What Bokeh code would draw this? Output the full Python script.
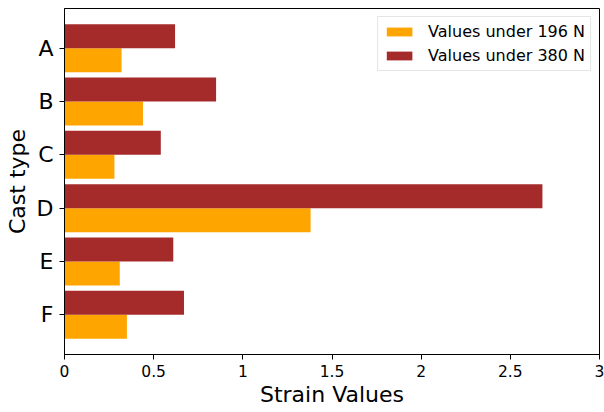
import numpy as np
from bokeh.plotting import figure
from bokeh.models import (Range1d, FixedTicker, NumeralTickFormatter, Legend,
                          LegendItem, ColumnDataSource)
from bokeh.transform import dodge
from bokeh.embed import file_html
from bokeh.resources import INLINE

cast_types = ["A", "B", "C", "D", "E", "F"]
values_196 = [0.32, 0.44, 0.28, 1.38, 0.31, 0.35]
values_380 = [0.62, 0.85, 0.54, 2.68, 0.61, 0.67]
x_ticks = [0, 0.5, 1, 1.5, 2, 2.5, 3]
series_labels = ["Values under 196 N", "Values under 380 N"]
series_colors = ["#FFA500", "#A52A2A"]
bar_height = 0.45

FONT = "DejaVu Sans"

pos = list(range(len(cast_types)))
src = ColumnDataSource(dict(pos=pos, v196=values_196, v380=values_380, cat=cast_types))

p = figure(width=604, height=410, output_backend="svg", toolbar_location=None,
           x_range=Range1d(0, 3), y_range=Range1d(len(cast_types) - 0.255, -0.745),
           min_border_left=64, min_border_right=5, min_border_top=8, min_border_bottom=56,
           background_fill_color="white", border_fill_color="white")

r1 = p.hbar(y=dodge("pos", bar_height / 2, range=p.y_range), right="v196", left=0,
            height=bar_height, source=src, fill_color=series_colors[0], line_color=None)
r2 = p.hbar(y=dodge("pos", -bar_height / 2, range=p.y_range), right="v380", left=0,
            height=bar_height, source=src, fill_color=series_colors[1], line_color=None)

p.xgrid.visible = False
p.ygrid.visible = False
p.outline_line_color = "black"
p.outline_line_width = 1
p.outline_line_alpha = 1

# x axis
xa = p.xaxis[0]
xa.ticker = FixedTicker(ticks=x_ticks)
xa.formatter = NumeralTickFormatter(format="0.[0]")
xa.axis_label = "Strain Values"
xa.axis_label_text_font = FONT
xa.axis_label_text_font_size = "22px"
xa.axis_label_text_font_style = "normal"
xa.axis_label_text_color = "black"
xa.axis_label_standoff = 2
xa.major_label_text_font = FONT
xa.major_label_text_font_size = "15.5px"
xa.major_label_text_color = "black"
xa.major_label_standoff = 5
xa.major_tick_out = 5
xa.major_tick_in = 0
xa.minor_tick_line_color = None
xa.axis_line_color = "black"
xa.major_tick_line_color = "black"

# y axis
ya = p.yaxis[0]
ya.ticker = FixedTicker(ticks=pos)
ya.major_label_overrides = {i: c for i, c in zip(pos, cast_types)}
ya.axis_label = "Cast type"
ya.axis_label_text_font = FONT
ya.axis_label_text_font_size = "22px"
ya.axis_label_text_font_style = "normal"
ya.axis_label_text_color = "black"
ya.axis_label_standoff = 4
ya.major_label_text_font = FONT
ya.major_label_text_font_size = "22px"
ya.major_label_text_color = "black"
ya.major_label_standoff = 6
ya.major_tick_out = 5
ya.major_tick_in = 0
ya.minor_tick_line_color = None
ya.axis_line_color = "black"
ya.major_tick_line_color = "black"

legend = Legend(items=[LegendItem(label=series_labels[0], renderers=[r1]),
                       LegendItem(label=series_labels[1], renderers=[r2])],
                location="top_right")
legend.label_text_font = FONT
legend.label_text_font_size = "16px"
legend.label_text_color = "black"
legend.glyph_width = 32
legend.glyph_height = 11
legend.label_standoff = 13
legend.label_height = 18
legend.padding = 5
legend.spacing = 5
legend.margin = 8
legend.border_line_color = "#cccccc"
legend.border_line_width = 1
legend.background_fill_color = "white"
legend.background_fill_alpha = 0.8
p.add_layout(legend)

open("out.html", "w").write(file_html(p, INLINE))
